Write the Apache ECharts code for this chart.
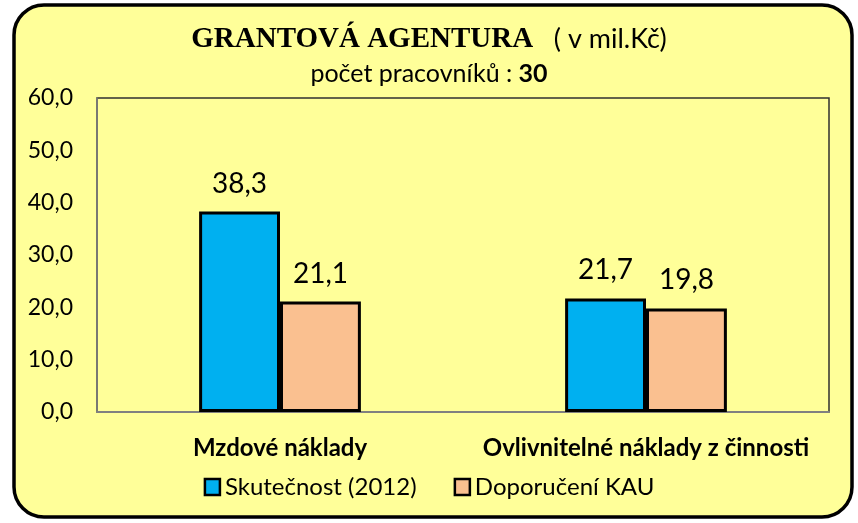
<!DOCTYPE html>
<html>
<head>
<meta charset="utf-8">
<script src="https://cdn.jsdelivr.net/npm/echarts@6/dist/echarts.min.js"></script>
<style>
    html, body { margin: 0; padding: 0; background: #fff; }
    #chart { width: 858px; height: 523px; }
</style>
</head>
<body>
<div id="chart"></div>
<script>
// data
const categories = ['Mzdové náklady', 'Ovlivnitelné náklady z činnosti'];
const skutecnost = [38.3, 21.7];
const doporuceni = [21.1, 19.8];
const seriesNames = ['Skutečnost (2012)', 'Doporučení KAU'];
const pocetPracovniku = 30;

const font = 'Lato, "Noto Sans", sans-serif';

function fmt(v) {
    return v.toFixed(1).replace('.', ',');
}

const myChart = echarts.init(document.getElementById('chart'));

// popisky nad sloupci
const barLabel = {
    show: true,
    position: 'top',
    distance: 14,
    fontFamily: font,
    fontSize: 28,
    color: '#000',
    formatter: p => fmt(p.value)
};

const option = {
    backgroundColor: '#fff',
    animation: false,
    graphic: [{
        type: 'rect',
        z: -10,
        shape: { x: 14, y: 5, width: 838, height: 512, r: 30 },
        style: { fill: '#FFFF99', stroke: '#000', lineWidth: 3.5 }
    }],
    title: [{
        text: '{a|GRANTOVÁ AGENTURA}{b|   ( v mil.Kč)}',
        left: 'center',
        top: 20,
        textStyle: {
            rich: {
                a: { fontFamily: '"Liberation Serif", serif', fontWeight: 'bold', fontSize: 29, color: '#000' },
                b: { fontFamily: font, fontWeight: 'normal', fontSize: 27, color: '#000' }
            }
        }
    }, {
        text: '{a|počet pracovníků : }{b|' + pocetPracovniku + '}',
        left: 'center',
        top: 56,
        textStyle: {
            rich: {
                a: { fontFamily: font, fontWeight: 'normal', fontSize: 25, color: '#000' },
                b: { fontFamily: font, fontWeight: 'bold', fontSize: 25, color: '#000' }
            }
        }
    }],
    legend: {
        data: seriesNames,
        bottom: 19,
        left: 'center',
        itemWidth: 15,
        itemHeight: 16,
        itemGap: 37,
        icon: 'rect',
        itemStyle: { borderColor: '#000', borderWidth: 2.5 },
        textStyle: { fontFamily: font, fontSize: 24, color: '#000' }
    },
    grid: {
        left: 97,
        right: 29,
        top: 98,
        bottom: 111,
        show: true,
        borderColor: '#303030',
        borderWidth: 1.5,
        backgroundColor: 'transparent'
    },
    xAxis: {
        type: 'category',
        data: categories,
        axisLine: { lineStyle: { color: '#808080', width: 2 } },
        axisTick: { show: false },
        axisLabel: {
            interval: 0,
            hideOverlap: false,
            fontFamily: font,
            fontSize: 24,
            fontWeight: 'bold',
            color: '#000',
            margin: 24
        }
    },
    yAxis: {
        type: 'value',
        min: 0,
        max: 60,
        interval: 10,
        splitLine: { show: false },
        axisLine: { show: true, lineStyle: { color: '#808080', width: 1.5 } },
        axisTick: { show: false },
        axisLabel: {
            fontFamily: font,
            fontSize: 23,
            color: '#000',
            margin: 24,
            formatter: fmt
        }
    },
    series: [{
        name: seriesNames[0],
        type: 'bar',
        data: skutecnost,
        barWidth: '22.1%',
        barGap: '0%',
        itemStyle: { color: '#00B0F0', borderColor: '#000', borderWidth: 3 },
        label: barLabel
    }, {
        name: seriesNames[1],
        type: 'bar',
        data: doporuceni,
        barWidth: '22.1%',
        barGap: '0%',
        itemStyle: { color: '#FAC090', borderColor: '#000', borderWidth: 3 },
        label: barLabel
    }]
};

myChart.setOption(option);
</script>
</body>
</html>
